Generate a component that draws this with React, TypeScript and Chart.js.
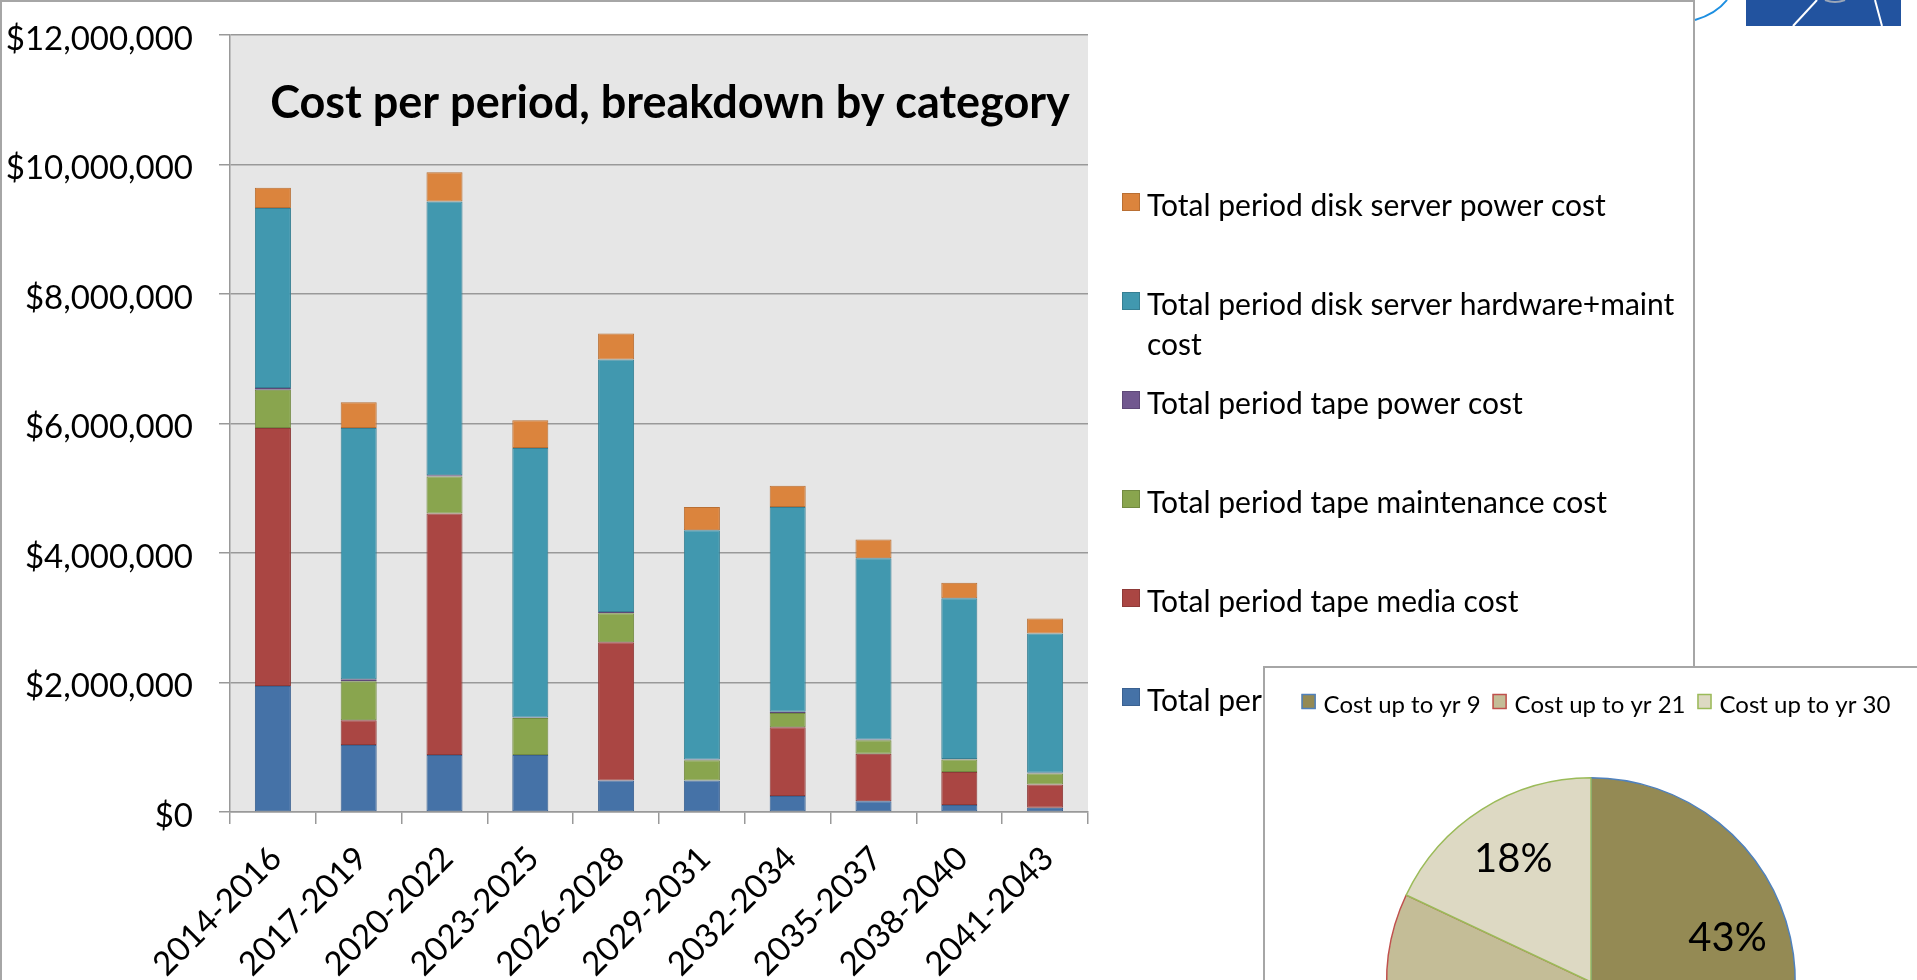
import React, { useEffect, useRef } from "react";
import { Chart, registerables } from "chart.js";

Chart.register(...registerables);

// ---------- data ----------
const periods = [
  "2014-2016",
  "2017-2019",
  "2020-2022",
  "2023-2025",
  "2026-2028",
  "2029-2031",
  "2032-2034",
  "2035-2037",
  "2038-2040",
  "2041-2043",
];

// stacked bottom -> top
const tapeHardware = [1945000, 1036000, 880000, 880000, 485000, 485000, 248000, 165000, 110000, 66000];
const tapeMedia = [3985000, 380000, 3730000, 0, 2135000, 0, 1062000, 735000, 507000, 358000];
const tapeMaint = [590000, 604000, 570000, 570000, 450000, 315000, 220000, 210000, 193000, 171000];
const tapePower = [30000, 30000, 20000, 10000, 20000, 10000, 20000, 10000, 10000, 10000];
const diskHardware = [2780000, 3880000, 4230000, 4160000, 3900000, 3540000, 3160000, 2800000, 2480000, 2150000];
const diskPower = [310000, 400000, 450000, 430000, 400000, 360000, 330000, 290000, 240000, 235000];

const seriesValues = [tapeHardware, tapeMedia, tapeMaint, tapePower, diskHardware, diskPower];
const seriesLabels = [
  "Total period tape hardware cost",
  "Total period tape media cost",
  "Total period tape maintenance cost",
  "Total period tape power cost",
  "Total period disk server hardware+maint cost",
  "Total period disk server power cost",
];
const seriesFill = ["#4572A7", "#AA4643", "#89A54E", "#71588F", "#4198AF", "#DB843D"];
const seriesBorder = ["#3A6191", "#8E3A38", "#728A41", "#5E4978", "#367F93", "#B96F33"];

const yMin = 0;
const yMax = 12000000;
const yStep = 2000000;

const chartTitle = "Cost per period, breakdown by category";

const pieLabels = ["Cost up to yr 9", "Cost up to yr 21", "Cost up to yr 30"];
const pieShares = [43, 39, 18];
const pieFill = ["#948A54", "#C4BD97", "#DDD9C3"];
const pieBorder = ["#4F81BD", "#C0504D", "#9BBB59"];

// ---------- helpers ----------
const FONT = "Lato, 'Open Sans', sans-serif";
// small manual nudges of the pie percentage labels ("best fit" placement)
const pieLabelNudge = [
  [-5, -12],
  [0, 0],
  [0, 0],
];

function money(v: number): string {
  return "$" + String(Math.round(v)).replace(/\B(?=(\d{3})+(?!\d))/g, ",");
}

function wrapText(ctx: CanvasRenderingContext2D, text: string, maxW: number): string[] {
  const words = text.split(" ");
  const lines: string[] = [];
  let cur = "";
  for (const w of words) {
    const test = cur ? cur + " " + w : w;
    if (ctx.measureText(test).width > maxW && cur) {
      lines.push(cur);
      cur = w;
    } else {
      cur = test;
    }
  }
  if (cur) lines.push(cur);
  return lines;
}

const plotBackground = {
  id: "plotBackground",
  beforeDraw(chart: any) {
    const { ctx, chartArea: a } = chart;
    ctx.save();
    ctx.fillStyle = "#E6E6E6";
    ctx.fillRect(a.left, a.top, a.right - a.left, a.bottom - a.top);
    ctx.restore();
  },
};

const titlePlugin = {
  id: "innerTitle",
  afterDraw(chart: any) {
    const { ctx } = chart;
    ctx.save();
    ctx.font = `bold 45px ${FONT}`;
    ctx.fillStyle = "#000";
    ctx.textAlign = "center";
    ctx.textBaseline = "middle";
    ctx.fillText(chartTitle, 670, 103);
    ctx.restore();
  },
};

const mainLegend = {
  id: "mainLegend",
  afterDraw(chart: any) {
    const { ctx } = chart;
    ctx.save();
    ctx.font = `30px ${FONT}`;
    ctx.textBaseline = "middle";
    const ds = chart.data.datasets.slice().reverse();
    ds.forEach((d: any, i: number) => {
      const yc = 206 + i * 99;
      ctx.fillStyle = d.backgroundColor;
      ctx.fillRect(1122, yc - 13, 18, 18);
      ctx.strokeStyle = d.borderColor;
      ctx.lineWidth = 1;
      ctx.strokeRect(1122.5, yc - 12.5, 17, 17);
      ctx.fillStyle = "#000";
      const lines = wrapText(ctx, d.label, 545);
      lines.forEach((ln, j) => ctx.fillText(ln, 1147, yc + j * 40));
    });
    ctx.restore();
  },
};

const pieLegend = {
  id: "pieLegend",
  afterDraw(chart: any) {
    const { ctx } = chart;
    ctx.save();
    ctx.font = `24px ${FONT}`;
    ctx.textBaseline = "middle";
    const labels: string[] = chart.data.labels;
    const ds = chart.data.datasets[0];
    const box = 14;
    const gapBox = 8;
    const gapItem = 12;
    const widths = labels.map((l) => box + gapBox + ctx.measureText(l).width);
    const total = widths.reduce((a, b) => a + b, 0) + gapItem * (labels.length - 1);
    const cx = (chart.chartArea.left + chart.chartArea.right) / 2 + 5;
    let x = cx - total / 2;
    const yc = 39;
    labels.forEach((l, i) => {
      ctx.fillStyle = ds.backgroundColor[i];
      ctx.fillRect(x, yc - 11, box, box + 1);
      ctx.strokeStyle = ds.borderColor[i];
      ctx.lineWidth = 1.5;
      ctx.strokeRect(x + 0.5, yc - 10.5, box - 1, box);
      ctx.fillStyle = "#000";
      ctx.fillText(l, x + box + gapBox, yc);
      x += widths[i] + gapItem;
    });
    ctx.restore();
  },
};

const pieValueLabels = {
  id: "pieValueLabels",
  afterDatasetsDraw(chart: any) {
    const { ctx } = chart;
    const meta = chart.getDatasetMeta(0);
    ctx.save();
    ctx.font = `40px ${FONT}`;
    ctx.fillStyle = "#000";
    ctx.textAlign = "center";
    ctx.textBaseline = "middle";
    meta.data.forEach((arc: any, i: number) => {
      const p = arc.getProps(["x", "y", "startAngle", "endAngle", "outerRadius"], true);
      const mid = (p.startAngle + p.endAngle) / 2;
      const r = p.outerRadius * 0.71;
      const v = chart.data.datasets[0].data[i];
      const [nx, ny] = pieLabelNudge[i] || [0, 0];
      ctx.fillText(v + "%", p.x + Math.cos(mid) * r + nx, p.y + Math.sin(mid) * r + ny);
    });
    ctx.restore();
  },
};

// ---------- charts ----------
function MainChart() {
  const ref = useRef<HTMLCanvasElement>(null);
  useEffect(() => {
    if (!ref.current) return;
    const gridColor = "#999999";
    const chart = new Chart(ref.current, {
      type: "bar",
      data: {
        labels: periods,
        datasets: seriesValues.map((vals, i) => ({
          label: seriesLabels[i],
          data: vals,
          backgroundColor: seriesFill[i],
          borderColor: seriesBorder[i],
          borderWidth: 1,
          borderSkipped: false,
          categoryPercentage: 1,
          barPercentage: 0.42,
        })),
      },
      options: {
        animation: false,
        responsive: false,
        maintainAspectRatio: false,
        layout: { padding: { left: 0, right: 606, top: 35, bottom: 0 } },
        plugins: {
          legend: { display: false },
          tooltip: { enabled: false },
          title: { display: false },
        },
        scales: {
          x: {
            stacked: true,
            grid: {
              offset: true,
              drawOnChartArea: false,
              drawTicks: true,
              tickLength: 12,
              color: gridColor,
              lineWidth: 1.5,
            },
            border: { color: gridColor, width: 1.5 },
            ticks: {
              autoSkip: false,
              maxRotation: 45,
              minRotation: 45,
              padding: 15,
              labelOffset: 3,
              color: "#000",
              font: { family: FONT, size: 33 },
            },
            afterFit: (s: any) => {
              s.height = 168;
              s.paddingLeft = 0;
              s.paddingRight = 0;
            },
          } as any,
          y: {
            stacked: true,
            min: yMin,
            max: yMax,
            ticks: {
              stepSize: yStep,
              padding: 26,
              labelOffset: 4,
              color: "#000",
              font: { family: FONT, size: 33 },
              callback: (v: any) => money(Number(v)),
            },
            grid: { color: gridColor, lineWidth: 1.5, tickLength: 11 },
            border: { color: gridColor, width: 1.5 },
            afterFit: (s: any) => {
              s.width = 230;
              s.paddingTop = 0;
              s.paddingBottom = 0;
            },
          } as any,
        },
      },
      plugins: [plotBackground, titlePlugin, mainLegend],
    });
    return () => chart.destroy();
  }, []);
  return (
    <canvas
      ref={ref}
      width={1694}
      height={980}
      style={{ position: "absolute", left: 0, top: 0, width: 1694, height: 980 }}
    />
  );
}

function PieChart() {
  const ref = useRef<HTMLCanvasElement>(null);
  useEffect(() => {
    if (!ref.current) return;
    const chart = new Chart(ref.current, {
      type: "pie",
      data: {
        labels: pieLabels,
        datasets: [
          {
            data: pieShares,
            backgroundColor: pieFill,
            borderColor: pieBorder,
            borderWidth: 1.5,
          },
        ],
      },
      options: {
        animation: false,
        responsive: false,
        maintainAspectRatio: false,
        layout: { padding: { left: 123, right: 123, top: 111, bottom: 111 } },
        plugins: {
          legend: { display: false },
          tooltip: { enabled: false },
        },
      },
      plugins: [pieValueLabels, pieLegend],
    });
    return () => chart.destroy();
  }, []);
  return (
    <canvas
      ref={ref}
      width={656}
      height={632}
      style={{ position: "absolute", left: 1263, top: 666, width: 656, height: 632 }}
    />
  );
}

export default function App() {
  return (
    <div
      style={{
        position: "fixed",
        left: 0,
        top: 0,
        width: 1917,
        height: 980,
        overflow: "hidden",
        background: "#fff",
      }}
    >
      <div
        style={{
          position: "absolute",
          left: 0,
          top: 0,
          width: 1695,
          height: 1100,
          boxSizing: "border-box",
          border: "2px solid #A6A6A6",
          background: "#fff",
        }}
      />
      <MainChart />
      <div
        style={{
          position: "absolute",
          left: 1263,
          top: 666,
          width: 700,
          height: 400,
          boxSizing: "border-box",
          border: "2px solid #A6A6A6",
          background: "#fff",
        }}
      />
      <PieChart />
      <svg
        width={227}
        height={30}
        style={{ position: "absolute", left: 1690, top: 0 }}
      >
        <path d="M 5 20 Q 26 14 37 0" stroke="#1D8FE1" strokeWidth={2} fill="none" />
        <rect x={56} y={0} width={155} height={26} fill="#22539F" />
        <line x1={103} y1={26} x2={127} y2={0} stroke="#fff" strokeWidth={2} />
        <line x1={192} y1={26} x2={185} y2={0} stroke="#fff" strokeWidth={2} />
        <path d="M 135 0 Q 145 4 155 0" stroke="#9AA6B8" strokeWidth={2} fill="none" />
      </svg>
    </div>
  );
}
